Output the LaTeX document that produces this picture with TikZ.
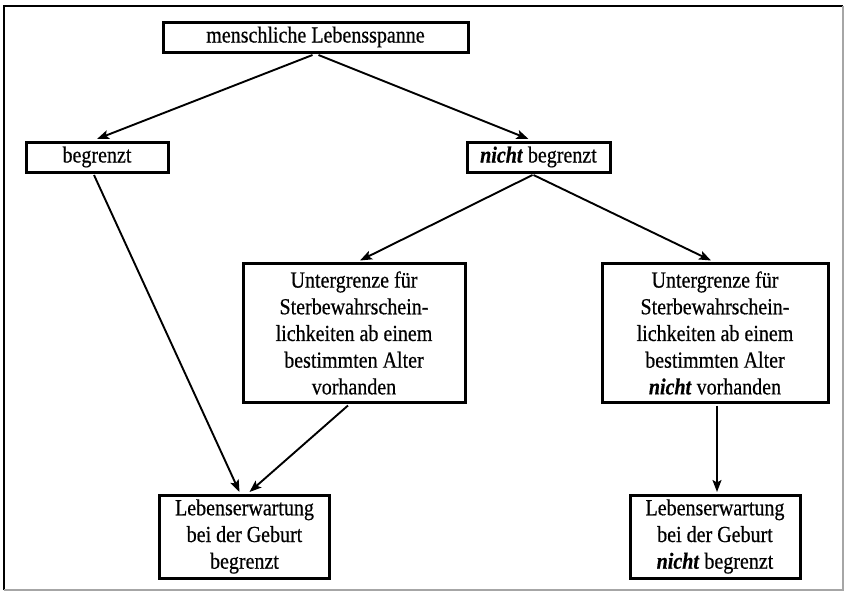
\documentclass[tikz,border=0pt]{standalone}
\usepackage{fontspec}
\setmainfont{Liberation Serif}[FakeStretch=0.87, FakeBold=0.5]
\usetikzlibrary{arrows.meta}
\begin{document}
\begin{tikzpicture}[x=1pt,y=-1pt,
  box/.style={draw=black, line width=3pt, fill=white, inner sep=0pt, align=center,
    font=\fontsize{23}{26.7}\selectfont},
  arr/.style={line width=1.9pt, -{Stealth[length=12pt,width=9pt,inset=2.5pt]}}]
\useasboundingbox (0,0) rectangle (844,592);
\fill[white] (0,0) rectangle (844,592);
% frame
\draw[line width=1.8pt, black] (4,590) -- (4,6) -- (843,6);
\draw[line width=1.5pt, black!35] (843,6) -- (843,590) -- (4,590);
% nodes
\node[box, minimum width=305pt, minimum height=30pt] (top) at (315.5,37) {menschliche Lebensspanne};
\node[box, minimum width=142pt, minimum height=30pt] (begr) at (97,157) {begrenzt};
\node[box, minimum width=143pt, minimum height=30pt] (nbegr) at (538.5,157) {\textbf{\textit{nicht}} begrenzt};
\node[box, minimum width=222pt, minimum height=139pt] (midL) at (354,333) {Untergrenze für\\Sterbewahrschein-\\lichkeiten ab einem\\bestimmten Alter\\vorhanden};
\node[box, minimum width=226pt, minimum height=139pt] (midR) at (715,333) {Untergrenze für\\Sterbewahrschein-\\lichkeiten ab einem\\bestimmten Alter\\\textbf{\textit{nicht}} vorhanden};
\node[box, minimum width=170pt, minimum height=83pt] (botL) at (244.5,536.5) {Lebenserwartung\\bei der Geburt\\begrenzt};
\node[box, minimum width=170pt, minimum height=83pt] (botR) at (715,536.5) {Lebenserwartung\\bei der Geburt\\\textbf{\textit{nicht}} begrenzt};
% connectors
\draw[arr] ([xshift=-3pt,yshift=-1.5pt]top.south) -- ([xshift=0pt,yshift=1.5pt]begr.north);
\draw[arr] ([xshift=3pt,yshift=-1.5pt]top.south) -- ([xshift=-10pt,yshift=1.5pt]nbegr.north);
\draw[arr] ([xshift=-3pt,yshift=-1.5pt]begr.south) -- ([xshift=-5pt,yshift=1.5pt]botL.north);
\draw[arr] ([xshift=-6pt,yshift=-1.5pt]nbegr.south) -- ([xshift=6pt,yshift=1.5pt]midL.north);
\draw[arr] ([xshift=-5pt,yshift=-1.5pt]nbegr.south) -- ([xshift=-4pt,yshift=1.5pt]midR.north);
\draw[arr] ([xshift=-6pt,yshift=-1.5pt]midL.south) -- ([xshift=5pt,yshift=1.5pt]botL.north);
\draw[arr] ([xshift=2pt,yshift=-1.5pt]midR.south) -- ([xshift=2pt,yshift=1.5pt]botR.north);
\end{tikzpicture}
\end{document}
